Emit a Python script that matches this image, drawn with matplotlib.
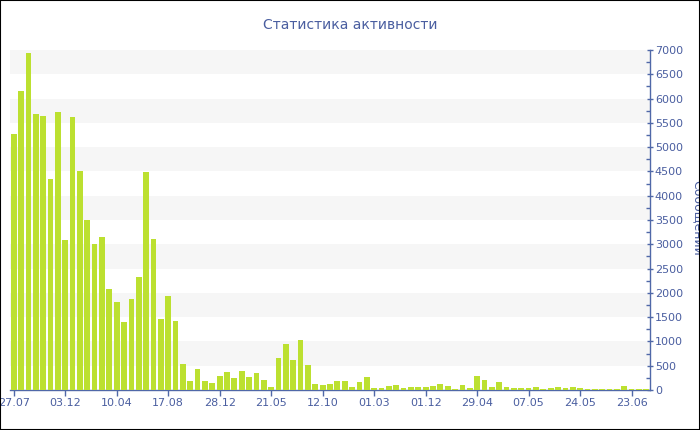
import matplotlib
matplotlib.use("Agg")
import matplotlib.pyplot as plt
from matplotlib.patches import Rectangle
from matplotlib.ticker import MultipleLocator
import numpy as np

plt.rcParams['font.family'] = ['DejaVu Sans']

title = "Статистика активности"
ylabel = "Сообщений"

values = [5270, 6160, 6930, 5680, 5640, 4340, 5720, 3080, 5630, 4500,
          3490, 3010, 3160, 2070, 1810, 1400, 1870, 2330, 4490, 3110,
          1460, 1930, 1420,
          535, 185, 432, 178, 144, 288, 370, 254, 391, 261, 357, 213, 69,
          659, 947, 611, 1036, 515, 117, 110,
          124, 178, 185, 69, 158, 261, 41, 34, 89, 96, 48, 62, 62, 55, 82,
          117, 75, 30, 96, 34, 288, 206, 62,
          165, 55, 41, 34, 41, 55, 30, 34, 69, 34, 62, 48, 30, 30, 30, 28,
          28, 89, 30, 28, 28]

tick_labels = ["27.07", "03.12", "10.04", "17.08", "28.12", "21.05", "12.10",
               "01.03", "01.12", "29.04", "07.05", "24.05", "23.06"]
tick_step = 7

bar_color = '#bce030'
axis_color = '#5068a8'
text_color = '#4a5ea0'

fig = plt.figure(figsize=(7, 4.3), dpi=100)
ax = fig.add_axes([10/700, 40/430, 640/700, 340/430])

x = np.arange(len(values))
ax.set_xlim(-0.5, len(values) - 0.5)
ax.set_ylim(0, 7000)

for lo in range(500, 7000, 1000):
    ax.axhspan(lo, lo + 500, color='#f6f6f6', lw=0, zorder=0)

ax.bar(x, values, width=0.78, color=bar_color, edgecolor='none', zorder=3)

ax.set_xticks(x[::tick_step][:len(tick_labels)])
ax.set_xticklabels(tick_labels)

ax.yaxis.tick_right()
ax.yaxis.set_major_locator(MultipleLocator(500))
ax.yaxis.set_minor_locator(MultipleLocator(250))

for s in ['left', 'top']:
    ax.spines[s].set_visible(False)
for s in ['right', 'bottom']:
    ax.spines[s].set_color(axis_color)
    ax.spines[s].set_linewidth(1.0)
    ax.spines[s].set_zorder(2.5)

ax.tick_params(axis='x', colors=axis_color, labelcolor=text_color, labelsize=8,
               length=4, width=1, direction='out', pad=2)
ax.tick_params(axis='y', which='major', colors=axis_color, labelcolor=text_color,
               labelsize=8, length=5, width=1, direction='inout', pad=1)
ax.tick_params(axis='y', which='minor', colors=axis_color, length=3, width=1,
               direction='in')
ax.set_facecolor('white')

fig.text(350/700, 1 - 25/430, title, ha='center', va='center',
         fontsize=10, color=text_color)
fig.text(697/700, 1 - 218/430, ylabel, ha='center', va='center',
         rotation=-90, fontsize=9, color=text_color)

fig.patches.append(Rectangle((0, 0), 1, 1, transform=fig.transFigure,
                             fill=False, ec='black', lw=1.5, zorder=10))

fig.savefig('out.png', dpi=100)
